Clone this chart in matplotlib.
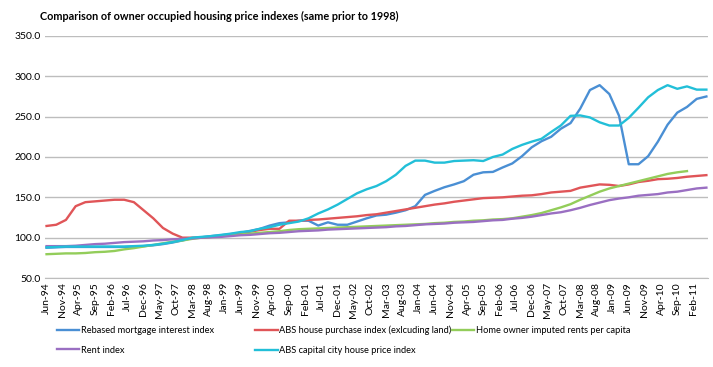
import numpy as np
import matplotlib.pyplot as plt

plt.rcParams['font.family'] = ['Lato', 'DejaVu Sans']

# quarterly observations, months since Jun-94
months = np.arange(0, 205, 3)

mortgage = [87.5, 88, 88.5, 88.5, 88.5, 88.5, 88.5, 88.5, 88.5, 89, 89.5, 90.5, 92, 94, 96.5, 99.5,
            100.5, 102, 103, 104.5, 106, 108.5, 111, 115, 118, 119, 121, 121, 115, 119, 116, 116,
            120, 124, 127.5, 128.5, 131, 134, 139, 153, 158, 162.5, 166, 170, 178, 181, 181.5, 187,
            192, 201, 212, 219.5, 225, 235, 242, 260, 283, 289, 278, 251, 191, 191, 201, 219,
            240, 255, 262, 272, 275]
house_purchase = [114.5, 116, 122, 139, 144, 145, 146, 147, 147, 144, 134, 124, 112, 105, 100, 100,
                  100, 101, 102, 104, 105.5, 107.5, 109.5, 111, 111, 121, 121, 122, 122.5, 123.5, 124.5, 125.5,
                  126.5, 128, 129, 131, 133, 135, 137, 139, 141, 142.5, 144.5, 146, 147.5, 149, 149.5, 150,
                  151, 152, 152.5, 154, 156, 157, 158, 162, 164, 166, 165.5, 164, 166, 169, 170.5, 172.5,
                  173, 174, 175.5, 176.5, 177.5]
imputed_rents = [79.5, 80, 80.5, 80.5, 81, 82, 82.5, 83.5, 85.5, 87, 89, 91, 93, 95, 96.5, 98.5,
                 100, 101, 102, 103, 104, 105, 106, 107, 108, 109.5, 110.5, 111, 111.5, 112, 112.5, 113,
                 113.5, 114, 114.5, 115, 115.5, 116, 116.5, 117, 118, 118.5, 119.5, 120, 121, 121.5, 122.5, 123,
                 124, 126, 128, 130.5, 134, 137.5, 141.5, 147, 152, 157, 161, 164, 167, 170, 173, 176,
                 179, 181, 182.5, np.nan, np.nan]
rent = [89.5, 89.5, 89.5, 90, 91, 92, 92.5, 93.5, 94.5, 95, 95.5, 96.5, 97, 98, 98.5, 99,
        100, 100.5, 101, 102, 103, 103.5, 104.5, 105.5, 106, 107, 108, 108.5, 109, 110, 110.5, 111,
        111.5, 112, 112.5, 113, 114, 114.5, 115.5, 116.5, 117, 117.5, 118.5, 119, 119.5, 120.5, 121.5, 122,
        123.5, 124.5, 126, 128, 130, 131.5, 134, 137, 140.5, 143.5, 146.5, 148.5, 150, 152, 153, 154,
        156, 157, 159, 161, 162]
capital_city = [88, 88.5, 89, 89, 89, 89, 89, 89, 89, 89.5, 90, 91, 92.5, 94.5, 97, 100,
                101, 102, 103.5, 105, 107, 108, 111, 113, 116, 118, 120, 124, 130, 135, 141, 148,
                155, 160, 164, 170, 178, 189, 195.5, 195.5, 193, 193, 195, 195.5, 196, 195, 200, 203,
                210, 215, 219, 222.5, 231, 239, 251, 251.5, 249, 243, 239, 239, 248.5, 261, 274, 283,
                289, 284.5, 287.5, 283.5, 283.5]

names = ['Rebased mortgage interest index', 'Rent index', 'ABS house purchase index (exlcuding land)',
         'ABS capital city house price index', 'Home owner imputed rents per capita']
colors = ['#4A8FD4', '#9A6FC2', '#E05558', '#22BFD8', '#93CD5A']

mon = ['Jan', 'Feb', 'Mar', 'Apr', 'May', 'Jun', 'Jul', 'Aug', 'Sep', 'Oct', 'Nov', 'Dec']
tick_pos = np.arange(0, 201, 5)
tick_lab = [f"{mon[(5 + p) % 12]}-{(94 + (5 + p) // 12) % 100:02d}" for p in tick_pos]

fig = plt.figure(figsize=(7.13, 3.67), dpi=100)
ax = fig.add_axes([0.063, 0.2425, 0.930, 0.6595])

series = [mortgage, rent, house_purchase, capital_city, imputed_rents]
order = [0, 2, 4, 1, 3]  # drawing order
lines = {}
for i in order:
    lines[i], = ax.plot(months, series[i], color=colors[i], lw=1.7, label=names[i])

ax.set_ylim(50, 350)
ax.set_yticks(np.arange(50, 351, 50))
ax.set_yticklabels([f"{v:.1f}" for v in np.arange(50, 351, 50)], fontsize=7.5)
ax.set_xlim(-0.5, 204.5)
ax.set_xticks(tick_pos)
ax.set_xticklabels(tick_lab, rotation=90, fontsize=7.5)
ax.tick_params(length=0, pad=3)
ax.grid(axis='y', color='#BDBDBD', lw=1)
ax.set_axisbelow(True)
for s in ['top', 'right', 'left']:
    ax.spines[s].set_visible(False)
ax.spines['bottom'].set_color('#BDBDBD')

fig.text(0.056, 0.945, 'Comparison of owner occupied housing price indexes (same prior to 1998)',
         fontsize=7.8, fontweight='bold')

# legend: three fixed-width columns like the spreadsheet
leg_cols = [([0, 1], 0.080), ([2, 3], 0.358), ([4], 0.634)]
for idx, x0 in leg_cols:
    lg = fig.legend([lines[i] for i in idx], [names[i] for i in idx], loc='upper left',
                    bbox_to_anchor=(x0, 0.112), frameon=False, fontsize=6.7,
                    handlelength=2.4, handletextpad=0.15, labelspacing=1.15,
                    borderpad=0, borderaxespad=0)

fig.savefig('out.png', dpi=100)
